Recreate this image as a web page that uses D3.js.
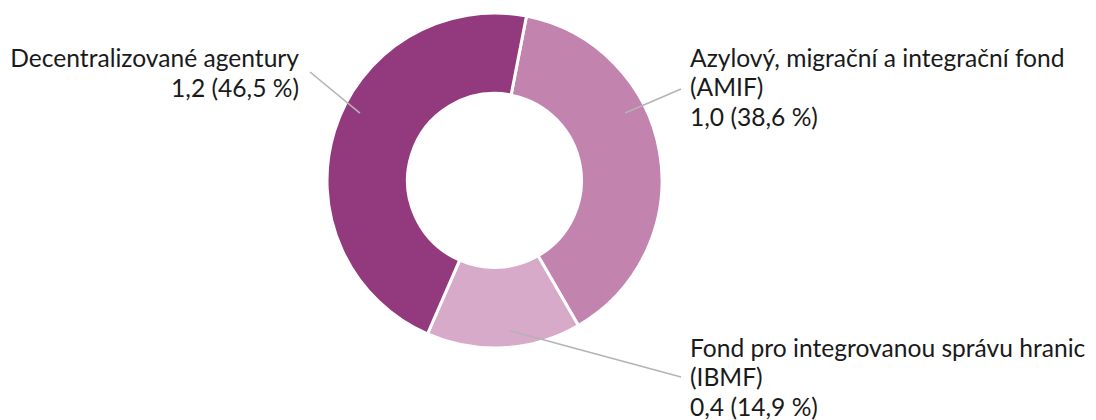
<!DOCTYPE html>
<html>
<head>
<meta charset="utf-8">
<script src="https://cdn.jsdelivr.net/npm/d3@7"></script>
<style>
  html, body { margin: 0; padding: 0; background: #ffffff; }
  svg { display: block; }
  text { font-family: Lato, "Noto Sans", sans-serif; fill: #1a1a1a; }
</style>
</head>
<body>
<svg id="chart" width="1096" height="420"></svg>
<script>
// ---- data ----
const categories = ["AMIF", "IBMF", "Decentralizované agentury"];
const nameLines = [
  ["Azylový, migrační a integrační fond", "(AMIF)"],
  ["Fond pro integrovanou správu hranic", "(IBMF)"],
  ["Decentralizované agentury"]
];
const amounts = [1.0, 0.4, 1.2];          // bn EUR
const shares = [38.6, 14.9, 46.5];        // %
const colors = ["#c284ae", "#d6aac8", "#93397d"];

// ---- layout ----
const W = 1096, H = 420;
const cx = 494.5, cy = 180.5;
const outerR = 167.5, innerR = 87;
const startDeg = 11;
const fontSize = 24.6;
const lineH = 29.5;
// label layout: leader anchor (polar, relative to centre), leader end and text anchor
const labelLayout = [
  { angDeg: 62.7, r: 147, endX: 681, endY: 89,  tx: 690, ty: 66.5, anchor: "start" },
  { angDeg: 174.1, r: 151, endX: 681, endY: 377, tx: 690, ty: 356.5, anchor: "start" },
  { angDeg: 296.6, r: 150.5, endX: 310, endY: 72, tx: 299, ty: 67, anchor: "end" }
];

const fmt = v => d3.format(".1f")(v).replace(".", ",");

const svg = d3.select("#chart");
const g = svg.append("g").attr("transform", `translate(${cx},${cy})`);

const rad = d => d * Math.PI / 180;
const pie = d3.pie().sort(null).value(d => d.share)
  .startAngle(rad(startDeg)).endAngle(rad(startDeg) + 2 * Math.PI);
const arc = d3.arc().innerRadius(innerR).outerRadius(outerR);

const data = categories.map((c, i) => ({ name: c, share: shares[i], amount: amounts[i], color: colors[i], lines: nameLines[i], lay: labelLayout[i] }));

g.selectAll("path.slice")
  .data(pie(data))
  .join("path")
  .attr("class", "slice")
  .attr("d", arc)
  .attr("fill", d => d.data.color)
  .attr("stroke", "#ffffff")
  .attr("stroke-width", 3)
  .attr("stroke-linejoin", "miter");

// leader lines
svg.selectAll("line.leader")
  .data(data)
  .join("line")
  .attr("class", "leader")
  .attr("x1", d => cx + d.lay.r * Math.sin(rad(d.lay.angDeg)))
  .attr("y1", d => cy - d.lay.r * Math.cos(rad(d.lay.angDeg)))
  .attr("x2", d => d.lay.endX)
  .attr("y2", d => d.lay.endY)
  .attr("stroke", "#b4b4b4")
  .attr("stroke-width", 1.6);

// labels
const labels = svg.selectAll("text.label")
  .data(data)
  .join("text")
  .attr("class", "label")
  .attr("text-anchor", d => d.lay.anchor)
  .attr("font-size", fontSize);

labels.each(function(d) {
  const t = d3.select(this);
  const lines = d.lines.concat([`${fmt(d.amount)} (${fmt(d.share)} %)`]);
  lines.forEach((ln, j) => {
    t.append("tspan")
      .attr("x", d.lay.tx)
      .attr("y", d.lay.ty + j * lineH)
      .text(ln);
  });
});
</script>
</body>
</html>
